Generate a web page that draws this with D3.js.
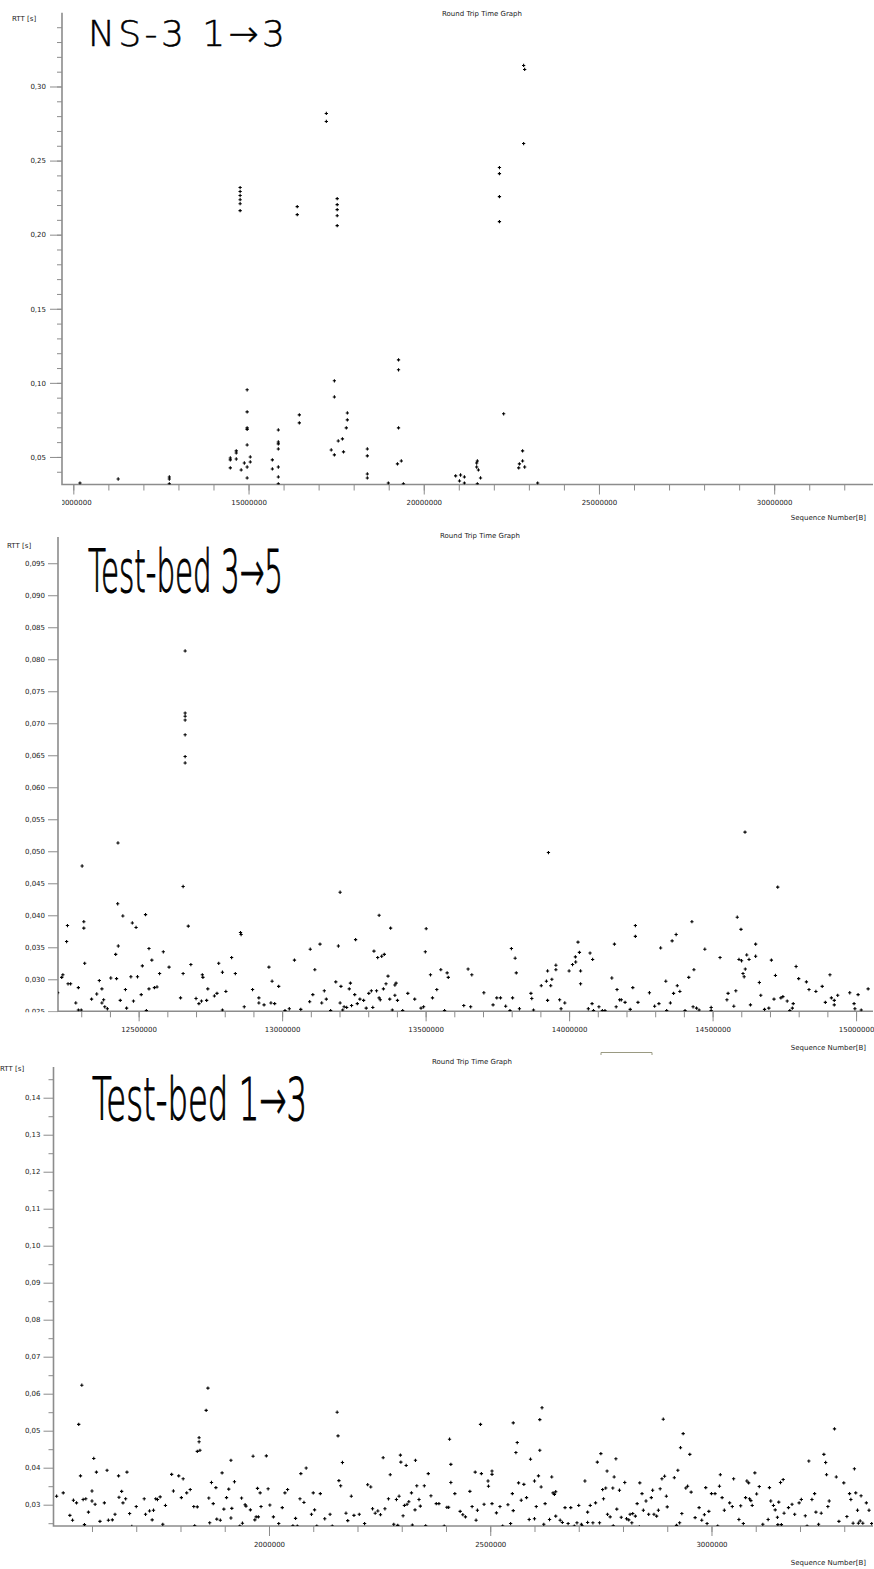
<!DOCTYPE html>
<html>
<head>
<meta charset="utf-8">
<script src="https://cdn.jsdelivr.net/npm/d3@7"></script>
<style>
body { margin: 0; background: #fff; }
svg { display: block; }
.tick text, .small { font-family: "DejaVu Sans", sans-serif; font-size: 7px; fill: #222; }
.big { font-family: "DejaVu Sans", sans-serif; fill: #000; stroke: #000; }
</style>
</head>
<body>
<div id="chart"></div>
<script>
const SEQ_UNIT = 1000 // sequence numbers below are in thousands of bytes

// NS-3 1->3 : [seq (kB), rtt (s)]
const ns3Points = [
  [10190, 0.0324], [11280, 0.0351], [12740, 0.0365], [12740, 0.0351], [12740, 0.0318],
  [14480, 0.0493], [14480, 0.0480], [14480, 0.0426], [14650, 0.0541], [14650, 0.0527], [14650, 0.0486],
  [14790, 0.0412], [14880, 0.0459], [14960, 0.0953], [14960, 0.0804], [14960, 0.0696], [14960, 0.0686],
  [14960, 0.0581], [14960, 0.0432], [14960, 0.0358], [15050, 0.0500], [15050, 0.0466],
  [15680, 0.0480], [15680, 0.0419], [15850, 0.0682], [15850, 0.0601], [15850, 0.0588], [15850, 0.0554],
  [15850, 0.0432], [15850, 0.0365], [15850, 0.0318], [16450, 0.0784], [16450, 0.0730],
  [14760, 0.2318], [14760, 0.2291], [14760, 0.2264], [14760, 0.2236], [14760, 0.2209], [14760, 0.2162],
  [16390, 0.2189], [16390, 0.2135], [17220, 0.2818], [17220, 0.2764],
  [17530, 0.2243], [17530, 0.2203], [17530, 0.2169], [17530, 0.2128], [17530, 0.2061],
  [17450, 0.1014], [17450, 0.0905], [17360, 0.0547], [17450, 0.0514], [17560, 0.0608], [17680, 0.0622],
  [17820, 0.0797], [17820, 0.0750], [17790, 0.0696], [17710, 0.0534],
  [18390, 0.0554], [18390, 0.0507], [18390, 0.0385], [18390, 0.0358], [18990, 0.0324],
  [19280, 0.1155], [19280, 0.1088], [19280, 0.0696], [19250, 0.0453], [19360, 0.0473], [19420, 0.0318],
  [20910, 0.0372], [21050, 0.0378], [21160, 0.0365], [21020, 0.0338], [21160, 0.0324],
  [21510, 0.0459], [21530, 0.0473], [21510, 0.0432], [21560, 0.0412], [21620, 0.0358], [21530, 0.0318],
  [22160, 0.2453], [22160, 0.2412], [22160, 0.2257], [22160, 0.2088], [22280, 0.0791],
  [22850, 0.3142], [22880, 0.3115], [22850, 0.2615], [22820, 0.0541], [22820, 0.0473],
  [22730, 0.0453], [22710, 0.0426], [22880, 0.0432], [23250, 0.0324]
]

// Test-bed 3->5
const tb35Points = [
  [12218, 0.0279], [12232, 0.0303], [12236, 0.0307], [12249, 0.0359], [12252, 0.0384], [12254, 0.0293],
  [12263, 0.0293], [12281, 0.0263], [12290, 0.0287], [12290, 0.0252], [12300, 0.0252], [12309, 0.0390],
  [12309, 0.0380], [12312, 0.0325], [12336, 0.0269], [12354, 0.0277], [12363, 0.0298], [12372, 0.0285],
  [12372, 0.0263], [12378, 0.0268], [12382, 0.0257], [12391, 0.0254], [12403, 0.0302], [12420, 0.0339],
  [12423, 0.0301], [12427, 0.0418], [12429, 0.0352], [12436, 0.0267], [12445, 0.0399], [12454, 0.0284],
  [12458, 0.0255], [12473, 0.0304], [12478, 0.0388], [12482, 0.0266], [12491, 0.0381], [12496, 0.0304],
  [12509, 0.0276], [12513, 0.0321], [12524, 0.0401], [12527, 0.0251], [12536, 0.0348], [12536, 0.0285],
  [12546, 0.0330], [12555, 0.0287], [12564, 0.0288], [12573, 0.0309], [12586, 0.0343], [12606, 0.0319],
  [12646, 0.0271], [12655, 0.0309], [12673, 0.0383], [12682, 0.0323], [12700, 0.0270], [12710, 0.0262],
  [12719, 0.0266], [12722, 0.0307], [12724, 0.0303], [12737, 0.0267], [12741, 0.0285], [12764, 0.0274],
  [12773, 0.0278], [12779, 0.0325], [12792, 0.0311], [12792, 0.0252], [12804, 0.0281], [12824, 0.0334],
  [12837, 0.0309], [12855, 0.0373], [12857, 0.0370], [12868, 0.0257], [12897, 0.0284], [12919, 0.0271],
  [12919, 0.0263], [12937, 0.0260], [12954, 0.0319], [12961, 0.0263], [12965, 0.0297], [12974, 0.0262],
  [12988, 0.0289], [13010, 0.0251], [13025, 0.0254], [13043, 0.0330], [13065, 0.0253], [13096, 0.0265],
  [13098, 0.0347], [13107, 0.0276], [13114, 0.0315], [13132, 0.0355], [13138, 0.0263], [13147, 0.0282],
  [13154, 0.0269], [13169, 0.0251], [13187, 0.0296], [13196, 0.0352], [13202, 0.0263], [13205, 0.0289],
  [13211, 0.0252], [13216, 0.0257], [13225, 0.0256], [13234, 0.0285], [13238, 0.0294], [13242, 0.0259],
  [13253, 0.0276], [13256, 0.0362], [13262, 0.0262], [13271, 0.0269], [13284, 0.0267], [13293, 0.0255],
  [13302, 0.0278], [13311, 0.0282], [13316, 0.0256], [13320, 0.0344], [13329, 0.0282], [13333, 0.0334],
  [13338, 0.0271], [13338, 0.0400], [13342, 0.0268], [13347, 0.0336], [13353, 0.0285], [13356, 0.0339],
  [13362, 0.0293], [13369, 0.0305], [13375, 0.0269], [13378, 0.0380], [13384, 0.0252], [13393, 0.0291],
  [13393, 0.0275], [13397, 0.0294], [13402, 0.0267], [13420, 0.0251], [13438, 0.0278], [13462, 0.0269],
  [13484, 0.0255], [13493, 0.0257], [13499, 0.0343], [13502, 0.0379], [13517, 0.0307], [13524, 0.0271],
  [13539, 0.0284], [13553, 0.0315], [13566, 0.0251], [13575, 0.0310], [13579, 0.0303], [13633, 0.0259],
  [13648, 0.0316], [13657, 0.0257], [13661, 0.0307], [13703, 0.0279], [13735, 0.0260], [13748, 0.0271],
  [13761, 0.0271], [13779, 0.0258], [13794, 0.0251], [13799, 0.0348], [13803, 0.0271], [13812, 0.0333],
  [13816, 0.0310], [13827, 0.0254], [13867, 0.0278], [13870, 0.0270], [13876, 0.0252], [13903, 0.0290],
  [13921, 0.0297], [13925, 0.0313], [13925, 0.0267], [13936, 0.0290], [13940, 0.0300], [13954, 0.0315],
  [13954, 0.0322], [13967, 0.0268], [13972, 0.0254], [13985, 0.0263], [14000, 0.0313], [14012, 0.0323],
  [14022, 0.0335], [14023, 0.0327], [14031, 0.0358], [14036, 0.0342], [14040, 0.0293], [14040, 0.0313],
  [14067, 0.0254], [14073, 0.0341], [14080, 0.0262], [14082, 0.0331], [14085, 0.0251], [14104, 0.0257],
  [14116, 0.0251], [14125, 0.0251], [14149, 0.0302], [14158, 0.0355], [14164, 0.0257], [14167, 0.0284],
  [14176, 0.0268], [14182, 0.0268], [14195, 0.0264], [14213, 0.0253], [14222, 0.0287], [14231, 0.0384],
  [14231, 0.0367], [14240, 0.0264], [14280, 0.0279], [14298, 0.0258], [14313, 0.0262], [14319, 0.0349],
  [14337, 0.0297], [14340, 0.0251], [14353, 0.0263], [14359, 0.0360], [14364, 0.0278], [14373, 0.0370],
  [14377, 0.0290], [14386, 0.0281], [14404, 0.0251], [14417, 0.0303], [14428, 0.0390], [14432, 0.0257],
  [14435, 0.0315], [14444, 0.0255], [14453, 0.0252], [14473, 0.0347], [14495, 0.0256], [14495, 0.0251],
  [14526, 0.0334], [14550, 0.0268], [14554, 0.0278], [14574, 0.0258], [14581, 0.0282], [14586, 0.0397],
  [14592, 0.0331], [14599, 0.0378], [14601, 0.0329], [14606, 0.0309], [14610, 0.0304], [14614, 0.0316],
  [14619, 0.0338], [14627, 0.0331], [14632, 0.0260], [14650, 0.0355], [14650, 0.0336], [14663, 0.0295],
  [14668, 0.0275], [14681, 0.0253], [14696, 0.0255], [14705, 0.0330], [14714, 0.0269], [14719, 0.0306],
  [14738, 0.0271], [14745, 0.0273], [14760, 0.0266], [14769, 0.0251], [14778, 0.0255], [14781, 0.0262],
  [14791, 0.0320], [14800, 0.0301], [14827, 0.0296], [14836, 0.0284], [14860, 0.0281], [14882, 0.0289],
  [14893, 0.0264], [14909, 0.0307], [14914, 0.0271], [14924, 0.0267], [14924, 0.0260], [14936, 0.0275],
  [14978, 0.0279], [14993, 0.0262], [14996, 0.0254], [15007, 0.0276], [15018, 0.0252], [15042, 0.0285],
  [12303, 0.0477], [12428, 0.0513], [12662, 0.0813], [12662, 0.0716], [12662, 0.0711], [12662, 0.0705],
  [12662, 0.0682], [12662, 0.0648], [12662, 0.0638], [12655, 0.0445], [13202, 0.0436], [13928, 0.0498],
  [14613, 0.0530], [14727, 0.0444]
]

// Test-bed 1->3
const tb13Points = [
  [1520, 0.0323], [1535, 0.0332], [1550, 0.0271], [1556, 0.0258], [1558, 0.0312], [1565, 0.0305],
  [1570, 0.0517], [1574, 0.0378], [1577, 0.0623], [1580, 0.0314], [1583, 0.0246], [1586, 0.0316],
  [1592, 0.0280], [1600, 0.0337], [1600, 0.0310], [1604, 0.0425], [1607, 0.0301], [1610, 0.0388],
  [1618, 0.0255], [1628, 0.0305], [1634, 0.0393], [1637, 0.0258], [1646, 0.0259], [1652, 0.0274],
  [1660, 0.0378], [1661, 0.0320], [1667, 0.0336], [1670, 0.0305], [1676, 0.0316], [1679, 0.0388],
  [1685, 0.0276], [1690, 0.0241], [1700, 0.0295], [1718, 0.0316], [1721, 0.0274], [1730, 0.0283],
  [1736, 0.0259], [1739, 0.0285], [1744, 0.0316], [1748, 0.0314], [1754, 0.0321], [1760, 0.0247],
  [1766, 0.0298], [1780, 0.0382], [1784, 0.0337], [1796, 0.0378], [1802, 0.0319], [1806, 0.0370],
  [1814, 0.0332], [1822, 0.0341], [1830, 0.0295], [1832, 0.0243], [1838, 0.0294], [1838, 0.0444],
  [1842, 0.0470], [1842, 0.0481], [1844, 0.0447], [1858, 0.0555], [1862, 0.0615], [1864, 0.0318],
  [1866, 0.0251], [1870, 0.0360], [1874, 0.0303], [1880, 0.0346], [1882, 0.0261], [1890, 0.0258],
  [1894, 0.0386], [1898, 0.0288], [1904, 0.0319], [1909, 0.0342], [1914, 0.0264], [1914, 0.0420],
  [1916, 0.0290], [1922, 0.0362], [1934, 0.0242], [1938, 0.0318], [1940, 0.0250], [1946, 0.0300],
  [1948, 0.0296], [1958, 0.0286], [1964, 0.0431], [1968, 0.0259], [1971, 0.0267], [1974, 0.0344],
  [1976, 0.0267], [1980, 0.0332], [1982, 0.0295], [1994, 0.0432], [1998, 0.0343], [2002, 0.0299],
  [2010, 0.0267], [2022, 0.0249], [2030, 0.0292], [2036, 0.0332], [2042, 0.0341], [2054, 0.0243],
  [2060, 0.0263], [2064, 0.0242], [2070, 0.0316], [2072, 0.0384], [2079, 0.0306], [2084, 0.0399],
  [2096, 0.0274], [2100, 0.0332], [2103, 0.0286], [2108, 0.0242], [2116, 0.0330], [2126, 0.0262],
  [2138, 0.0274], [2143, 0.0242], [2154, 0.0550], [2156, 0.0486], [2158, 0.0365], [2162, 0.0351],
  [2166, 0.0414], [2174, 0.0277], [2178, 0.0257], [2186, 0.0323], [2192, 0.0271], [2204, 0.0274],
  [2216, 0.0249], [2223, 0.0354], [2230, 0.0348], [2234, 0.0289], [2240, 0.0277], [2246, 0.0283],
  [2252, 0.0273], [2258, 0.0427], [2262, 0.0289], [2270, 0.0316], [2274, 0.0381], [2282, 0.0247],
  [2288, 0.0314], [2291, 0.0244], [2294, 0.0323], [2297, 0.0434], [2298, 0.0415], [2303, 0.0270],
  [2306, 0.0298], [2310, 0.0406], [2312, 0.0301], [2316, 0.0308], [2322, 0.0332], [2324, 0.0245],
  [2330, 0.0286], [2331, 0.0420], [2334, 0.0351], [2339, 0.0314], [2342, 0.0296], [2351, 0.0351],
  [2354, 0.0243], [2360, 0.0384], [2366, 0.0324], [2378, 0.0303], [2384, 0.0303], [2396, 0.0242],
  [2402, 0.0293], [2406, 0.0293], [2408, 0.0477], [2411, 0.0409], [2411, 0.0360], [2420, 0.0330],
  [2432, 0.0282], [2438, 0.0273], [2444, 0.0267], [2454, 0.0336], [2459, 0.0295], [2466, 0.0388],
  [2468, 0.0258], [2471, 0.0285], [2478, 0.0517], [2480, 0.0384], [2486, 0.0301], [2495, 0.0364],
  [2496, 0.0350], [2504, 0.0391], [2504, 0.0382], [2504, 0.0303], [2514, 0.0278], [2522, 0.0295],
  [2528, 0.0242], [2540, 0.0300], [2546, 0.0249], [2550, 0.0330], [2552, 0.0521], [2552, 0.0284],
  [2558, 0.0441], [2561, 0.0468], [2564, 0.0359], [2570, 0.0312], [2576, 0.0355], [2582, 0.0319],
  [2588, 0.0260], [2591, 0.0423], [2600, 0.0364], [2600, 0.0262], [2604, 0.0295], [2609, 0.0378],
  [2612, 0.0447], [2612, 0.0530], [2615, 0.0348], [2617, 0.0562], [2621, 0.0247], [2624, 0.0303],
  [2634, 0.0260], [2639, 0.0375], [2642, 0.0332], [2645, 0.0328], [2648, 0.0335], [2648, 0.0269],
  [2658, 0.0258], [2663, 0.0252], [2669, 0.0292], [2676, 0.0249], [2682, 0.0292], [2690, 0.0242],
  [2696, 0.0251], [2700, 0.0298], [2706, 0.0247], [2708, 0.0242], [2714, 0.0364], [2720, 0.0252],
  [2720, 0.0280], [2726, 0.0298], [2732, 0.0251], [2738, 0.0305], [2742, 0.0415], [2747, 0.0251],
  [2750, 0.0438], [2754, 0.0341], [2756, 0.0316], [2761, 0.0345], [2764, 0.0391], [2765, 0.0274],
  [2771, 0.0267], [2777, 0.0345], [2778, 0.0243], [2780, 0.0375], [2784, 0.0424], [2786, 0.0288],
  [2792, 0.0339], [2796, 0.0266], [2804, 0.0360], [2808, 0.0262], [2813, 0.0259], [2816, 0.0274],
  [2820, 0.0251], [2822, 0.0276], [2828, 0.0269], [2832, 0.0303], [2837, 0.0240], [2838, 0.0359],
  [2843, 0.0330], [2846, 0.0285], [2852, 0.0310], [2858, 0.0274], [2864, 0.0319], [2867, 0.0339],
  [2870, 0.0274], [2876, 0.0269], [2880, 0.0285], [2884, 0.0343], [2888, 0.0370], [2891, 0.0531],
  [2894, 0.0377], [2898, 0.0323], [2900, 0.0294], [2916, 0.0373], [2921, 0.0244], [2924, 0.0393],
  [2928, 0.0251], [2930, 0.0454], [2933, 0.0276], [2936, 0.0492], [2942, 0.0345], [2946, 0.0350],
  [2951, 0.0436], [2954, 0.0334], [2963, 0.0265], [2972, 0.0292], [2978, 0.0258], [2984, 0.0273],
  [2987, 0.0346], [2990, 0.0249], [2994, 0.0282], [3000, 0.0330], [3008, 0.0330], [3014, 0.0242],
  [3018, 0.0350], [3020, 0.0381], [3024, 0.0319], [3029, 0.0285], [3041, 0.0305], [3047, 0.0295],
  [3050, 0.0370], [3062, 0.0260], [3066, 0.0297], [3072, 0.0249], [3077, 0.0319], [3080, 0.0364],
  [3084, 0.0359], [3086, 0.0316], [3089, 0.0311], [3092, 0.0298], [3098, 0.0386], [3102, 0.0329],
  [3108, 0.0349], [3116, 0.0247], [3128, 0.0260], [3131, 0.0346], [3134, 0.0310], [3140, 0.0298],
  [3144, 0.0286], [3149, 0.0266], [3150, 0.0246], [3152, 0.0307], [3156, 0.0360], [3158, 0.0246],
  [3162, 0.0368], [3164, 0.0277], [3174, 0.0292], [3182, 0.0301], [3188, 0.0274], [3198, 0.0305],
  [3203, 0.0314], [3212, 0.0270], [3216, 0.0242], [3220, 0.0418], [3227, 0.0314], [3233, 0.0330],
  [3236, 0.0280], [3242, 0.0247], [3248, 0.0277], [3254, 0.0436], [3258, 0.0414], [3260, 0.0381],
  [3263, 0.0295], [3266, 0.0310], [3278, 0.0505], [3282, 0.0375], [3288, 0.0255], [3299, 0.0359],
  [3306, 0.0268], [3312, 0.0330], [3315, 0.0314], [3320, 0.0250], [3323, 0.0397], [3326, 0.0332],
  [3330, 0.0285], [3332, 0.0250], [3336, 0.0256], [3338, 0.0324], [3342, 0.0250], [3350, 0.0305],
  [3356, 0.0285], [3362, 0.0249]
]

// tick values
const ns3XTicks = [10000, 15000, 20000, 25000, 30000]
const ns3YTicks = [0.05, 0.10, 0.15, 0.20, 0.25, 0.30]
const tb35XTicks = [12500, 13000, 13500, 14000, 14500, 15000]
const tb35YTicks = [0.025, 0.030, 0.035, 0.040, 0.045, 0.050, 0.055, 0.060, 0.065, 0.070, 0.075, 0.080, 0.085, 0.090, 0.095]
const tb13XTicks = [2000, 2500, 3000]
const tb13YTicks = [0.03, 0.04, 0.05, 0.06, 0.07, 0.08, 0.09, 0.10, 0.11, 0.12, 0.13, 0.14]

const titles = ['NS-3 1\u21923', 'Test-bed 3\u21925', 'Test-bed 1\u21923']

const comma = d3.formatLocale({ decimal: ',', thousands: '', grouping: [3], currency: ['', ''] })

const panels = [
    {
        points: ns3Points, xDomain: [9677, 32820], xRange: [62, 873],
        yDomain: [0.0314, 0.3498], yRange: [484.5, 12.7],
        xMajor: ns3XTicks, xMinor: d3.range(10000, 33000, 1000),
        yMajor: ns3YTicks, yMinor: d3.range(0.04, 0.345, 0.01),
        yFmt: comma.format('.2f'), yTick: 12, yPad: 4,
        title: { text: titles[0], x: 88, y: 46, size: 36, len: 197, weight: 200, stroke: 0.5, adj: 'spacing' },
        head: { x: 482, y: 16 }, rtt: { x: 12, y: 21 }, seqY: 520
    },
    {
        points: tb35Points, xDomain: [12219, 15059], xRange: [58, 873],
        yDomain: [0.025, 0.0991], yRange: [1011.3, 537],
        xMajor: tb35XTicks, xMinor: d3.range(12300, 15100, 100),
        yMajor: tb35YTicks, yMinor: [],
        yFmt: comma.format('.3f'), yTick: 10, yPad: 3,
        title: { text: titles[1], x: 88, y: 592, size: 58, len: 195, weight: 200, stroke: 1.1, adj: 'spacingAndGlyphs' },
        head: { x: 480, y: 538 }, rtt: { x: 7, y: 548 }, seqY: 1050
    },
    {
        points: tb13Points, xDomain: [1513, 3365], xRange: [53.5, 873],
        yDomain: [0.02424, 0.1483], yRange: [1526, 1067],
        xMajor: tb13XTicks, xMinor: d3.range(1600, 3400, 100),
        yMajor: tb13YTicks, yMinor: d3.range(0.025, 0.146, 0.01),
        yFmt: comma.format('.2f'), yTick: 10, yPad: 3,
        title: { text: titles[2], x: 92, y: 1120, size: 58, len: 215, weight: 200, stroke: 1.1, adj: 'spacingAndGlyphs' },
        head: { x: 472, y: 1064 }, rtt: { x: 0, y: 1071 }, seqY: 1565
    }
]

const svg = d3.select('#chart')
            .append('svg')
            .attr('width', 874)
            .attr('height', 1569)

const axisColor = '#8c8c8c'
const cross = d3.symbol().type(d3.symbolCross).size(6)

const drawPanel = (p, i) => {
    const x = d3.scaleLinear().domain(p.xDomain).range(p.xRange)
    const y = d3.scaleLinear().domain(p.yDomain).range(p.yRange)
    const left = p.xRange[0], right = p.xRange[1]
    const bottom = p.yRange[0], top = p.yRange[1]

    const defs = svg.append('defs')
    defs.append('clipPath').attr('id', `plot${i}`)
        .append('rect').attr('x', left).attr('y', top).attr('width', right - left).attr('height', bottom - top)
    defs.append('clipPath').attr('id', `xax${i}`)
        .append('rect').attr('x', left).attr('y', -2).attr('width', 874 - left).attr('height', 40)
    defs.append('clipPath').attr('id', `yax${i}`)
        .append('rect').attr('x', -left).attr('y', top - bottom - 10).attr('width', left + 2).attr('height', bottom - top + 11)

    // x axis: minor then major ticks
    svg.append('g')
        .attr('transform', `translate(0, ${bottom})`)
        .style('color', axisColor)
        .call(d3.axisBottom(x).tickValues(p.xMinor).tickSize(6).tickSizeOuter(0).tickFormat(''))
        .call(g => g.select('.domain').remove())
        .call(g => g.selectAll('text').remove())
    svg.append('g')
        .attr('transform', `translate(0, ${bottom})`)
        .attr('clip-path', `url(#xax${i})`)
        .style('color', axisColor)
        .call(d3.axisBottom(x).tickValues(p.xMajor).tickSize(10).tickPadding(6).tickSizeOuter(0)
            .tickFormat(d => d3.format('d')(d * SEQ_UNIT)))
        .call(g => g.select('.domain').remove())

    // y axis
    svg.append('g')
        .attr('transform', `translate(${left}, 0)`)
        .style('color', axisColor)
        .call(d3.axisLeft(y).tickValues(p.yMinor).tickSize(5).tickSizeOuter(0).tickFormat(''))
        .call(g => g.select('.domain').remove())
        .call(g => g.selectAll('text').remove())
    svg.append('g')
        .attr('transform', `translate(${left}, ${bottom})`)
        .append('g')
        .attr('clip-path', `url(#yax${i})`)
        .append('g')
        .attr('transform', `translate(0, ${-bottom})`)
        .style('color', axisColor)
        .call(d3.axisLeft(y).tickValues(p.yMajor).tickSize(p.yTick).tickPadding(p.yPad).tickSizeOuter(0).tickFormat(p.yFmt))
        .call(g => g.select('.domain').remove())

    // axis lines
    svg.append('path')
        .attr('d', `M${left},${top}V${bottom}H${right}`)
        .attr('fill', 'none')
        .attr('stroke', axisColor)
        .attr('stroke-width', 1.6)

    // points
    svg.append('g')
        .attr('clip-path', `url(#plot${i})`)
        .selectAll('path')
        .data(p.points)
        .enter()
        .append('path')
        .attr('d', cross)
        .attr('transform', d => `translate(${x(d[0])}, ${y(d[1])})`)
        .attr('fill', '#000')

    // texts
    svg.append('text').attr('class', 'small')
        .attr('x', p.head.x).attr('y', p.head.y).attr('text-anchor', 'middle')
        .text('Round Trip Time Graph')
    svg.append('text').attr('class', 'small')
        .attr('x', p.rtt.x).attr('y', p.rtt.y)
        .text('RTT [s]')
    svg.append('text').attr('class', 'small')
        .attr('x', 866).attr('y', p.seqY).attr('text-anchor', 'end')
        .text('Sequence Number[B]')
    svg.append('text').attr('class', 'big')
        .attr('x', p.title.x).attr('y', p.title.y)
        .attr('font-size', p.title.size)
        .attr('font-weight', p.title.weight)
        .attr('stroke-width', p.title.stroke)
        .attr('textLength', p.title.len)
        .attr('lengthAdjust', p.title.adj)
        .text(p.title.text)
}

panels.forEach(drawPanel)

// small bracket artefact below the middle chart
svg.append('path')
    .attr('d', 'M601,1055V1052.5H652V1055')
    .attr('fill', 'none')
    .attr('stroke', '#9a9a82')
    .attr('stroke-width', 1)
</script>
</body>
</html>
